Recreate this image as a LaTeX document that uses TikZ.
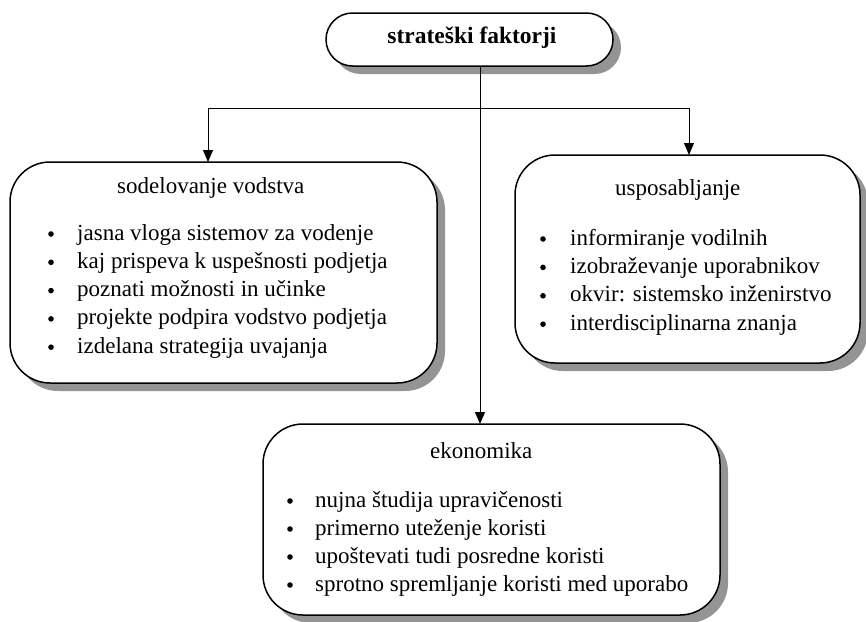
\documentclass[tikz,border=0pt]{standalone}
\usepackage{fontspec}
\setmainfont{Liberation Serif}
\usetikzlibrary{arrows.meta,shadows}

\tikzset{
  panel/.style={draw=black, line width=1.5pt, fill=white, rounded corners=40pt,
    inner sep=0pt, outer sep=0pt,
    drop shadow={shadow xshift=8pt, shadow yshift=-8pt, fill=black!42, opacity=1}},
  pill/.style={panel, rounded corners=26.5pt},
  heading/.style={anchor=base west, inner sep=0pt, font=\fontsize{23}{28}\selectfont},
  item/.style={anchor=base west, inner sep=0pt, font=\fontsize{23}{28}\selectfont},
  link/.style={draw=black, line width=0.9pt},
  arr/.style={link, -{Triangle[length=12pt, width=10pt]}},
}

\begin{document}
\begin{tikzpicture}[x=1pt, y=-1pt]
\useasboundingbox (0,0) rectangle (866,621);

% boxes
\node[pill, minimum width=287pt, minimum height=53pt] (top) at (469.5,39.5) {};
\node[panel, minimum width=427pt, minimum height=221pt] (lft) at (223.5,272.5) {};
\node[panel, minimum width=345pt, minimum height=208pt] (rgt) at (687.5,259) {};
\node[panel, minimum width=457pt, minimum height=191pt] (bot) at (491.5,519.5) {};

% title
\node[anchor=base, inner sep=0pt, font=\fontsize{23.5}{28}\selectfont\bfseries] (title) at (472,43) {strateški faktorji};

% connectors
\coordinate (split) at (480,108);
\coordinate (la) at (208,108);
\coordinate (ra) at (689,108);
\draw[arr] (split |- top.south) -- (split |- bot.north);
\draw[link] (la) -- (ra);
\draw[arr] (la) -- (la |- lft.north);
\draw[arr] (ra) -- (ra |- rgt.north);

% left panel
\node[heading] (lh) at (117,193) {sodelovanje vodstva};
\foreach \t [count=\i] in {jasna vloga sistemov za vodenje,
  kaj prispeva k uspešnosti podjetja,
  poznati možnosti in učinke,
  projekte podpira vodstvo podjetja,
  izdelana strategija uvajanja} {
  \node[item] (l\i) at (77,240+28.3*\i-28.3) {\t};
  \fill (51,240+28.3*\i-28.3-6) circle (2.8pt);
}

% right panel
\node[heading] (rh) at (615,195) {usposabljanje};
\foreach \t [count=\i] in {informiranje vodilnih,
  izobraževanje uporabnikov,
  okvir: sistemsko inženirstvo,
  interdisciplinarna znanja} {
  \node[item] (r\i) at (570,245+28.4*\i-28.4) {\t};
  \fill (543,245+28.4*\i-28.4-6) circle (2.8pt);
}

% bottom panel
\node[heading] (bh) at (430,458) {ekonomika};
\foreach \t [count=\i] in {nujna študija upravičenosti,
  primerno uteženje koristi,
  upoštevati tudi posredne koristi,
  sprotno spremljanje koristi med uporabo} {
  \node[item] (b\i) at (315,507+28*\i-28) {\t};
  \fill (290,507+28*\i-28-6) circle (2.8pt);
}
\end{tikzpicture}
\end{document}
